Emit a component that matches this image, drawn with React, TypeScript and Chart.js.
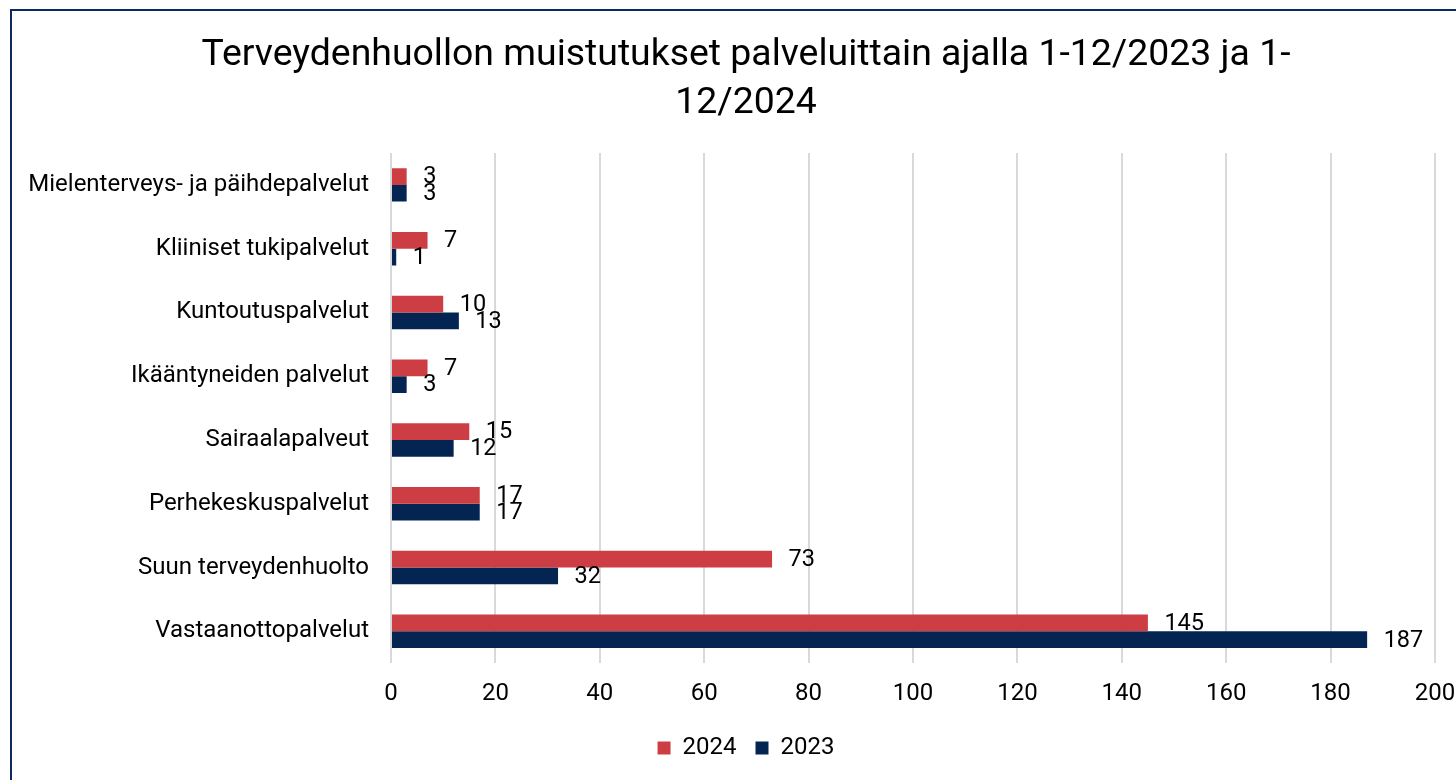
import React, { useEffect, useRef } from "react";
import { Chart, registerables } from "chart.js";

Chart.register(...registerables);

const categories = [
  "Mielenterveys- ja päihdepalvelut",
  "Kliiniset tukipalvelut",
  "Kuntoutuspalvelut",
  "Ikääntyneiden palvelut",
  "Sairaalapalveut",
  "Perhekeskuspalvelut",
  "Suun terveydenhuolto",
  "Vastaanottopalvelut",
];
const values2024 = [3, 7, 10, 7, 15, 17, 73, 145];
const values2023 = [3, 1, 13, 3, 12, 17, 32, 187];
const titleLines = [
  "Terveydenhuollon muistutukset palveluittain ajalla 1-12/2023 ja 1-",
  "12/2024",
];

const RED = "#CC3E44";
const NAVY = "#042452";
const FONT = "Roboto";

const valueLabels = {
  id: "valueLabels",
  afterDatasetsDraw(chart: any) {
    const ctx = chart.ctx;
    ctx.save();
    ctx.font = `23.5px ${FONT}`;
    ctx.fillStyle = "#000";
    ctx.textAlign = "left";
    ctx.textBaseline = "middle";
    chart.data.datasets.forEach((ds: any, i: number) => {
      const meta = chart.getDatasetMeta(i);
      meta.data.forEach((el: any, j: number) => {
        ctx.fillText(String(ds.data[j]), el.x + 16.5, el.y + 1);
      });
    });
    ctx.restore();
  },
};

// let tick labels extend past their scale boxes (no clipping)
const unclipScales = {
  id: "unclipScales",
  afterLayout(chart: any) {
    ["x", "y"].forEach((id) => {
      const s = chart.scales[id];
      if (s) s._computeLabelArea = () => undefined;
    });
  },
};

export default function App() {
  const ref = useRef<HTMLCanvasElement>(null);
  useEffect(() => {
    const chart = new Chart(ref.current!, {
      type: "bar",
      data: {
        labels: categories,
        datasets: [
          { label: "2024", data: values2024, backgroundColor: RED },
          { label: "2023", data: values2023, backgroundColor: NAVY },
        ],
      },
      options: {
        indexAxis: "y",
        animation: false,
        responsive: false,
        maintainAspectRatio: false,
        layout: { padding: { left: 40, right: 4, top: 0, bottom: 10 } },
        datasets: {
          bar: { categoryPercentage: 0.525, barPercentage: 1 },
        } as any,
        scales: {
          x: {
            min: 0,
            max: 200,
            ticks: {
              stepSize: 20,
              color: "#000",
              font: { family: FONT, size: 24 },
              padding: 16,
            },
            grid: { color: "#d9d9d9", lineWidth: 2, drawTicks: false },
            border: { display: false },
            afterFit(scale: any) {
              scale.height -= 7;
              scale.paddingRight = 21;
              scale.paddingLeft = 0;
            },
          },
          y: {
            ticks: {
              color: "#000",
              font: { family: FONT, size: 24 },
              padding: 22,
            },
            grid: { display: false, drawTicks: false },
            border: { display: false },
            afterFit(scale: any) {
              scale.width = 351;
            },
          },
        },
        plugins: {
          title: {
            display: true,
            text: titleLines,
            color: "#000",
            font: { family: FONT, size: 37.4, weight: "normal", lineHeight: 1.27 },
            padding: { top: 32, bottom: 26 },
          },
          legend: {
            position: "bottom",
            labels: {
              color: "#000",
              font: { family: FONT, size: 24 },
              boxWidth: 13,
              boxHeight: 13,
              padding: 19,
            },
          },
          tooltip: { enabled: false },
        },
      },
      plugins: [valueLabels, unclipScales],
    });
    return () => chart.destroy();
  }, []);

  return (
    <div
      style={{
        position: "fixed",
        left: 0,
        top: 0,
        width: 1456,
        height: 780,
        background: "#fff",
        overflow: "hidden",
      }}
    >
      <canvas
        ref={ref}
        width={1456}
        height={780}
        style={{ position: "absolute", left: 0, top: 0, width: 1456, height: 780 }}
      />
      <div
        style={{
          position: "absolute",
          left: 10,
          top: 9,
          width: 1500,
          height: 820,
          border: "2px solid #0B2A5E",
          boxSizing: "border-box",
          pointerEvents: "none",
        }}
      />
    </div>
  );
}
